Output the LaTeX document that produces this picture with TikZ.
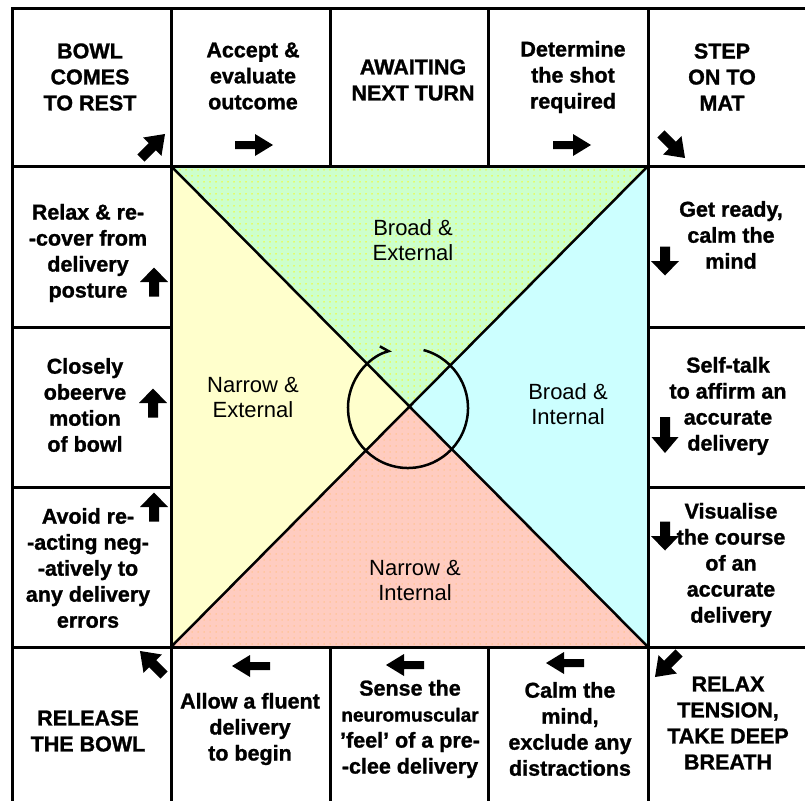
\documentclass[tikz,border=0pt]{standalone}
\usepackage{fontspec}
\setmainfont{Liberation Sans}[BoldFeatures={FakeBold=1.2}]
\usetikzlibrary{arrows.meta,patterns.meta}
\definecolor{cgreen}{RGB}{204,255,204}
\definecolor{cyellow}{RGB}{255,255,204}
\definecolor{ccyan}{RGB}{204,255,255}
\definecolor{cpink}{RGB}{255,204,192}
\definecolor{cdotY}{RGB}{255,250,0}
\definecolor{cdotO}{RGB}{255,190,130}
\tikzset{
  harr/.pic={\fill (-19,-4) -- (1,-4) -- (1,-11) -- (19,0) -- (1,11) -- (1,4) -- (-19,4) -- cycle;},
  varr/.pic={\fill (-14.5,-5) -- (0,-5) -- (0,-14) -- (14.5,0) -- (0,14) -- (0,5) -- (-14.5,5) -- cycle;},
  vlarr/.pic={\fill (-18,-5) -- (2,-5) -- (2,-13.5) -- (18,0) -- (2,13.5) -- (2,5) -- (-18,5) -- cycle;},
  darr/.pic={\fill (-17,-5) -- (-1,-5) -- (-1,-13) -- (17,0) -- (-1,13) -- (-1,5) -- (-17,5) -- cycle;},
  cell/.style={align=center, font=\bfseries\fontsize{21.5}{26}\selectfont, inner sep=0pt},
  quad/.style={align=center, font=\fontsize{22}{25}\selectfont, inner sep=0pt},
  frame/.style={line width=3pt},
  dotsY/.style={pattern={Dots[distance=6pt,radius=0.75pt]}, pattern color=cdotY},
  dotsO/.style={pattern={Dots[distance=6pt,radius=0.75pt]}, pattern color=cdotO}
}
\begin{document}
\begin{tikzpicture}[x=1pt,y=-1pt]
\useasboundingbox (0,0) rectangle (805,800);
\clip (0,0) rectangle (805,800);
\fill[white] (0,0) rectangle (805,800);
% centre square
\coordinate (tl) at (171,166);
\coordinate (tr) at (648,166);
\coordinate (bl) at (171,647);
\coordinate (br) at (648,647);
\coordinate (c) at (409.5,406.5);
\fill[cgreen] (tl) -- (tr) -- (c) -- cycle;
\fill[dotsY] (tl) -- (tr) -- (c) -- cycle;
\fill[cyellow] (tl) -- (c) -- (bl) -- cycle;
\fill[ccyan] (tr) -- (c) -- (br) -- cycle;
\fill[cpink] (bl) -- (c) -- (br) -- cycle;
\fill[dotsO] (bl) -- (c) -- (br) -- cycle;
\draw[line width=2.5pt] (tl) -- (br) (tr) -- (bl);
% grid
\draw[frame] (12,9) rectangle (830,830);
\draw[frame] (12,166) -- (830,166) (12,647) -- (830,647);
\draw[frame] (171,9) -- (171,830) (648,9) -- (648,830);
\draw[frame] (330,9) -- (330,166) (488,9) -- (488,166);
\draw[frame] (330,647) -- (330,830) (488,647) -- (488,830);
\draw[frame] (12,327) -- (171,327) (12,487) -- (171,487);
\draw[frame] (648,327) -- (830,327) (648,487) -- (830,487);
% cycle circle
\coordinate (cc) at (408,408);
\draw[line width=2.5pt, -{Straight Barb[left,length=7pt,width=14pt]}]
  (cc) ++(-75:60) arc[start angle=-75, end angle=254, radius=60];
% top row
\node[cell] (t1) at (90,77) {BOWL\\COMES\\TO REST};
\node[cell] (t2) at (253,76) {Accept \&\\evaluate\\outcome};
\node[cell] (t3) at (413,80) {AWAITING\\NEXT TURN};
\node[cell] (t4) at (573,77) {Determine\\the shot\\required};
\node[cell] (t5) at (722,77) {STEP\\ON TO\\MAT};
% left column
\node[cell] (l1) at (88,253) {Relax \& re-\\{-}cover from\\delivery\\posture};
\node[cell] (l2) at (85,405) {Closely\\obeerve\\motion\\of bowl};
\node[cell] (l3) at (88,568) {Avoid re-\\{-}acting neg-\\{-}atively to\\any delivery\\errors};
% right column
\node[cell] (r1) at (731,235) {Get ready,\\calm the\\mind};
\node[cell] (r2) at (728,406) {Self-talk\\to affirm an\\accurate\\delivery};
\node[cell] (r3) at (731,565) {Visualise\\the course\\of an\\accurate\\delivery};
% bottom row
\node[cell] (b1) at (88,731) {RELEASE\\THE BOWL};
\node[cell] (b2) at (250,729) {Allow a fluent\\delivery\\to begin};
\node[cell] (b3) at (410,729) {Sense the\\{\fontsize{19}{26}\selectfont neuromuscular}\\'feel' of a pre-\\{-}clee delivery};
\node[cell] (b4) at (570,729) {Calm the\\mind,\\exclude any\\distractions};
\node[cell] (b5) at (728,723) {RELAX\\TENSION,\\TAKE DEEP\\BREATH};
% quadrant labels
\node[quad] (q1) at (413,240) {Broad \&\\External};
\node[quad] (q2) at (253,397) {Narrow \&\\External};
\node[quad] (q3) at (568,404) {Broad \&\\Internal};
\node[quad] (q4) at (415,580) {Narrow \&\\Internal};
% block arrows
\pic[rotate=45] at (153,146) {darr};
\pic at (254,145) {harr};
\pic at (572,145) {harr};
\pic[rotate=-45] at (673,146) {darr};
\pic[rotate=90] at (154,282) {varr};
\pic[rotate=90] at (153,403) {varr};
\pic[rotate=90] at (154,507) {varr};
\pic[rotate=-90] at (665,261) {varr};
\pic[rotate=-90] at (665,435) {vlarr};
\pic[rotate=-90] at (665,536) {varr};
\pic[rotate=135] at (152,663) {darr};
\pic[rotate=180] at (251,666) {harr};
\pic[rotate=180] at (405,665) {harr};
\pic[rotate=180] at (565,663) {harr};
\pic[rotate=-135] at (667,665) {darr};
\end{tikzpicture}
\end{document}
